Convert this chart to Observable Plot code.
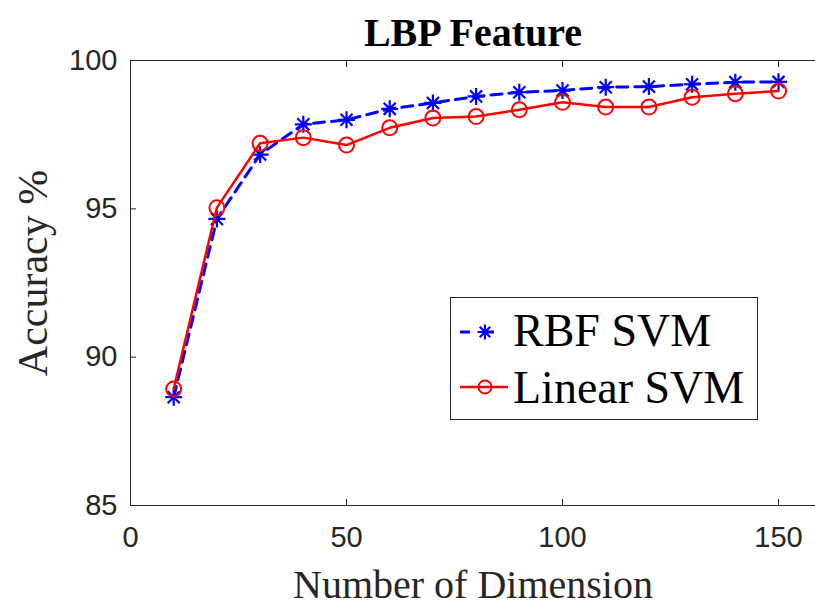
<!DOCTYPE html>
<html>
<head>
<meta charset="utf-8">
<script src="https://cdn.jsdelivr.net/npm/d3@7"></script>
<script src="https://cdn.jsdelivr.net/npm/@observablehq/plot@0.6"></script>
<style>
  html, body { margin: 0; padding: 0; background: #fff; }
  #wrap { position: relative; width: 815px; height: 605px; overflow: hidden; }
  #legend { position: absolute; left: 450px; top: 297px; }
</style>
</head>
<body>
<div id="wrap"></div>
<script>
// ---- data ----
const dims = [10, 20, 30, 40, 50, 60, 70, 80, 90, 100, 110, 120, 130, 140, 150];
const rbfSVM = [88.65, 94.66, 96.83, 97.85, 98.0, 98.37, 98.57, 98.79, 98.93, 98.99, 99.10, 99.12, 99.20, 99.27, 99.28];
const linearSVM = [88.93, 95.04, 97.21, 97.40, 97.15, 97.73, 98.06, 98.11, 98.34, 98.59, 98.43, 98.43, 98.76, 98.88, 98.97];
const seriesNames = ["RBF SVM", "Linear SVM"];
const xTicks = [0, 50, 100, 150];
const yTicks = [85, 90, 95, 100];
const titleText = "LBP Feature";
const xLabel = "Number of Dimension";
const yLabel = "Accuracy %";

const BLUE = "#0000ff";
const RED = "#ff0000";
const AXIS = "#262626";
const SERIF = "'Liberation Serif', 'Times New Roman', serif";
const SANS = "'Liberation Sans', Arial, Helvetica, sans-serif";

// MATLAB-style 8-armed asterisk
const asterisk8 = {
  draw(ctx, size) {
    const r = Math.sqrt(size / Math.PI);
    const a = r * Math.SQRT1_2;
    ctx.moveTo(-r, 0); ctx.lineTo(r, 0);
    ctx.moveTo(0, -r); ctx.lineTo(0, r);
    ctx.moveTo(-a, -a); ctx.lineTo(a, a);
    ctx.moveTo(-a, a); ctx.lineTo(a, -a);
  }
};

const rbfRows = dims.map((d, i) => ({dim: d, acc: rbfSVM[i]}));
const linRows = dims.map((d, i) => ({dim: d, acc: linearSVM[i]}));

const chart = Plot.plot({
  width: 815,
  height: 605,
  marginLeft: 130,
  marginRight: 0,
  marginTop: 60,
  marginBottom: 100,
  style: {background: "white", fontFamily: SANS, overflow: "visible"},
  x: {domain: [0, 158.56]},
  y: {domain: [85, 100]},
  marks: [
    // frame lines (box without right edge, which is cropped)
    Plot.ruleY([85, 100], {stroke: AXIS, strokeWidth: 1}),
    Plot.ruleX([0], {stroke: AXIS, strokeWidth: 1}),
    // axes with inward ticks
    Plot.axisX({ticks: xTicks, tickSize: -6, tickPadding: 27, fontSize: 29, fontFamily: SANS, color: AXIS, label: null}),
    Plot.axisX({anchor: "top", ticks: xTicks, tickSize: -6, tickFormat: () => "", color: AXIS, label: null}),
    Plot.axisY({ticks: yTicks, tickSize: -6, tickPadding: 19, fontSize: 29, fontFamily: SANS, color: AXIS, label: null}),
    // series
    Plot.line(rbfRows, {x: "dim", y: "acc", stroke: BLUE, strokeWidth: 3, strokeDasharray: "11,7"}),
    Plot.dot(rbfRows, {x: "dim", y: "acc", symbol: asterisk8, r: 8.5, fill: "none", stroke: BLUE, strokeWidth: 2.2}),
    Plot.line(linRows, {x: "dim", y: "acc", stroke: RED, strokeWidth: 2.5}),
    Plot.dot(linRows, {x: "dim", y: "acc", symbol: "circle", r: 7.5, fill: "none", stroke: RED, strokeWidth: 2}),
    // titles
    Plot.text([titleText], {frameAnchor: "top", textAnchor: "middle", lineAnchor: "bottom", dy: -15, fontSize: 40, fontWeight: "bold", fontFamily: SERIF, fill: "#000"}),
    Plot.text([xLabel], {frameAnchor: "bottom", textAnchor: "middle", lineAnchor: "bottom", dy: 92, fontSize: 40, fontFamily: SERIF, fill: AXIS}),
    Plot.text([yLabel], {frameAnchor: "left", textAnchor: "middle", lineAnchor: "middle", dx: -97, dy: -10, rotate: -90, fontSize: 42, fontFamily: SERIF, fill: AXIS})
  ]
});
document.getElementById("wrap").appendChild(chart);

// ---- legend ----
const NS = "http://www.w3.org/2000/svg";
const leg = document.createElementNS(NS, "svg");
leg.setAttribute("id", "legend");
leg.setAttribute("width", 309);
leg.setAttribute("height", 124);
function el(tag, attrs, parent) {
  const e = document.createElementNS(NS, tag);
  for (const k in attrs) e.setAttribute(k, attrs[k]);
  (parent || leg).appendChild(e);
  return e;
}
el("rect", {x: 0.5, y: 0.5, width: 307, height: 122, fill: "#fff", stroke: AXIS, "stroke-width": 1});
// RBF row
el("line", {x1: 10, x2: 58, y1: 35, y2: 35, stroke: BLUE, "stroke-width": 3, "stroke-dasharray": "10,14"});
const starPath = d3.path();
asterisk8.draw(starPath, Math.PI * 7.5 * 7.5);
el("path", {d: starPath.toString(), transform: "translate(35,35)", stroke: BLUE, "stroke-width": 2.2, fill: "none"});
const t1 = el("text", {x: 63, y: 49, "font-size": 46, "font-family": SERIF, fill: "#000"});
t1.textContent = seriesNames[0];
// Linear row
el("line", {x1: 10, x2: 58, y1: 90, y2: 90, stroke: RED, "stroke-width": 2.5});
el("circle", {cx: 35, cy: 90, r: 6.5, fill: "none", stroke: RED, "stroke-width": 2});
const t2 = el("text", {x: 63, y: 106, "font-size": 46, "font-family": SERIF, fill: "#000"});
t2.textContent = seriesNames[1];
document.getElementById("wrap").appendChild(leg);
</script>
</body>
</html>
